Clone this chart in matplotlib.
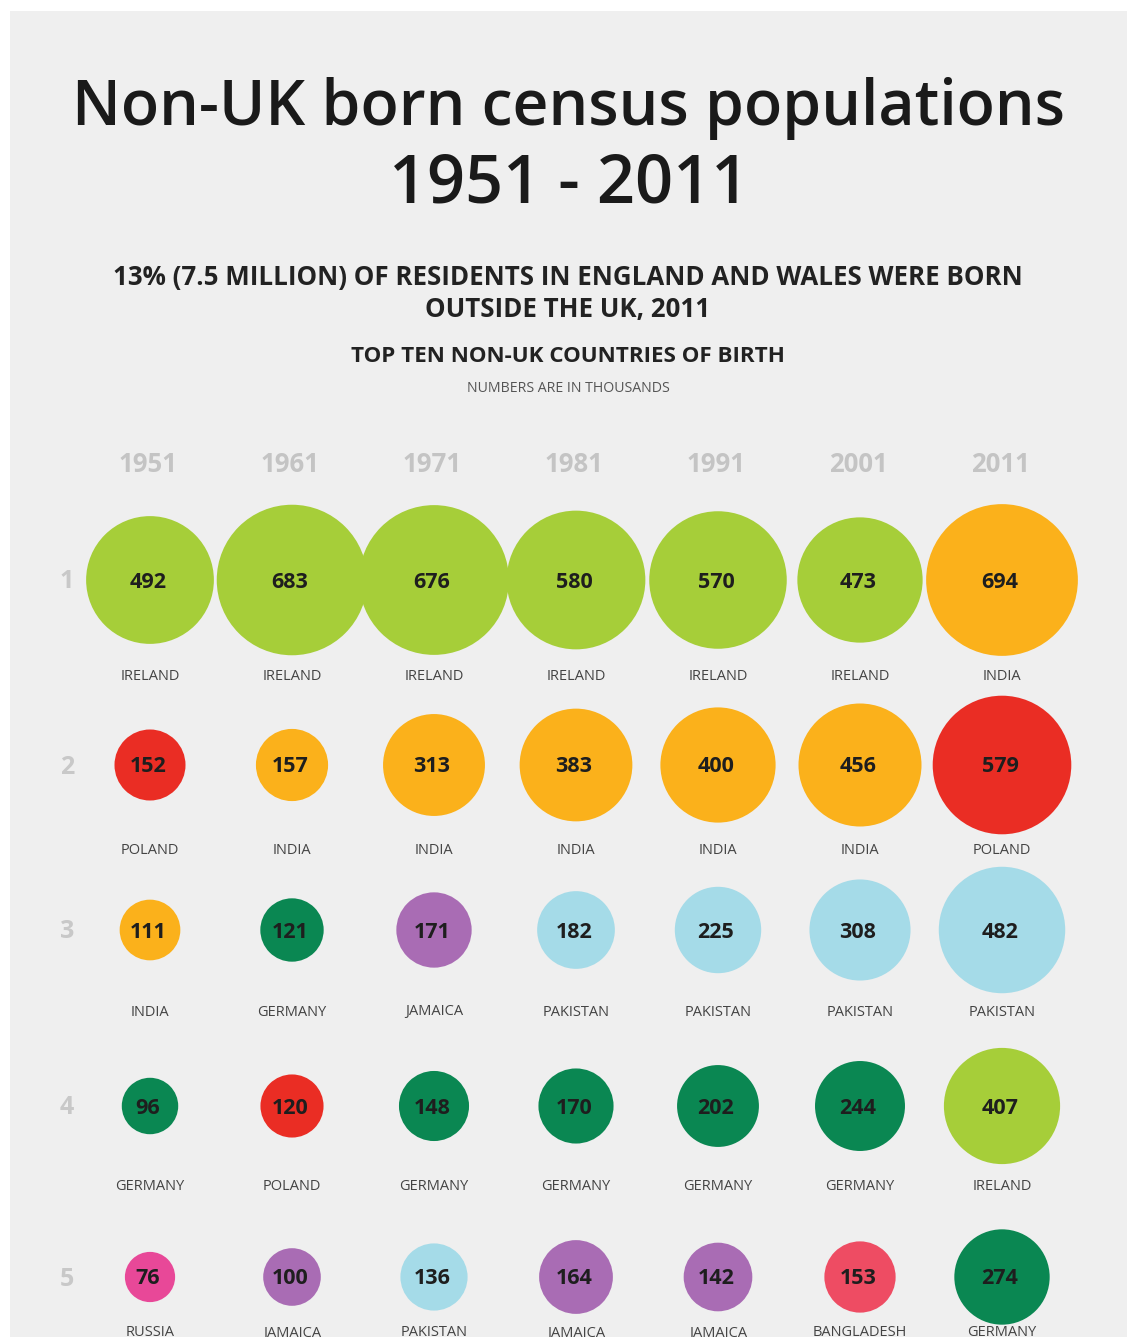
import matplotlib.pyplot as plt
from matplotlib.patches import Circle, Rectangle
import numpy as np

plt.rcParams['font.family'] = ['Open Sans', 'DejaVu Sans']

years = ['1951', '1961', '1971', '1981', '1991', '2001', '2011']
ranks = ['1', '2', '3', '4', '5']

countries = [
    ['IRELAND', 'POLAND', 'INDIA', 'GERMANY', 'RUSSIA'],
    ['IRELAND', 'INDIA', 'GERMANY', 'POLAND', 'JAMAICA'],
    ['IRELAND', 'INDIA', 'JAMAICA', 'GERMANY', 'PAKISTAN'],
    ['IRELAND', 'INDIA', 'PAKISTAN', 'GERMANY', 'JAMAICA'],
    ['IRELAND', 'INDIA', 'PAKISTAN', 'GERMANY', 'JAMAICA'],
    ['IRELAND', 'INDIA', 'PAKISTAN', 'GERMANY', 'BANGLADESH'],
    ['INDIA', 'POLAND', 'PAKISTAN', 'IRELAND', 'GERMANY'],
]
values = [
    [492, 152, 111, 96, 76],
    [683, 157, 121, 120, 100],
    [676, 313, 171, 148, 136],
    [580, 383, 182, 170, 164],
    [570, 400, 225, 202, 142],
    [473, 456, 308, 244, 153],
    [694, 579, 482, 407, 274],
]

colours = {
    'IRELAND': '#a6ce39',
    'INDIA': '#fbb11b',
    'POLAND': '#ea2d24',
    'PAKISTAN': '#a5dbe8',
    'GERMANY': '#0a8752',
    'JAMAICA': '#a96cb4',
    'RUSSIA': '#e84898',
    'BANGLADESH': '#ee4c63',
}

W, H = 1127, 1337
fig = plt.figure(figsize=(W / 100, H / 100), dpi=100)
fig.patch.set_facecolor('white')
ax = fig.add_axes([0, 0, 1, 1])
ax.set_xlim(0, W)
ax.set_ylim(H, 0)
ax.set_aspect('equal')
ax.axis('off')

# grey panel
ax.add_patch(Rectangle((10, 11), W - 10, H - 11, facecolor='#efefef', edgecolor='none', zorder=0))

# titles
ax.text(569, 108, 'Non-UK born census populations', ha='center', va='center',
        fontsize=45, fontweight='semibold', color='#1a1a1a')
ax.text(569, 185, '1951 - 2011', ha='center', va='center', fontsize=48,
        fontweight='semibold', color='#1a1a1a')
ax.text(568, 278, '13% (7.5 MILLION) OF RESIDENTS IN ENGLAND AND WALES WERE BORN',
        ha='center', va='center', fontsize=18.6, fontweight='bold', color='#222222')
ax.text(568, 309, 'OUTSIDE THE UK, 2011', ha='center', va='center',
        fontsize=18.6, fontweight='bold', color='#222222')
ax.text(568, 357, 'TOP TEN NON-UK COUNTRIES OF BIRTH', ha='center', va='center',
        fontsize=16.1, fontweight='bold', color='#222222')
ax.text(568, 389, 'NUMBERS ARE IN THOUSANDS', ha='center', va='center',
        fontsize=10.2, color='#555555')

col_x = 150 + 142 * np.arange(len(years))
row_y = [580, 765, 930, 1106, 1277]
label_y = [676, 851, 1012, 1186, 1333]
k = 2.88  # radius per sqrt(thousand)

for i, yr in enumerate(years):
    ax.text(col_x[i] - 2, 464, yr, ha='center', va='center', fontsize=18.5,
            fontweight='bold', color='#c4c4c4')

for j, r in enumerate(ranks):
    ax.text(67, row_y[j] + 2, r, ha='center', va='center', fontsize=18,
            fontweight='bold', color='#c8c8c8')

for i in range(len(years)):
    for j in range(len(ranks)):
        v = values[i][j]
        c = countries[i][j]
        ax.add_patch(Circle((col_x[i], row_y[j]), k * np.sqrt(v),
                            facecolor=colours[c], edgecolor='none', zorder=2))
        ax.text(col_x[i] - 2, row_y[j] + 2, str(v), ha='center', va='center',
                fontsize=15.5, fontweight='bold', color='#1e1e1e', zorder=3)
        ax.text(col_x[i], label_y[j], c, ha='center', va='center',
                fontsize=10.5, color='#444444', zorder=3)

fig.savefig('out.png', dpi=100, facecolor=fig.get_facecolor())
